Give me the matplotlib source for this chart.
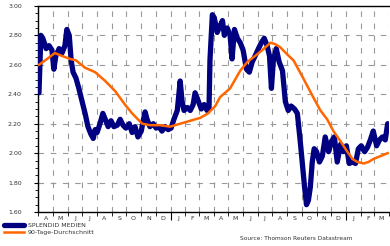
import matplotlib.pyplot as plt
import matplotlib.dates as mdates
import pandas as pd

kurs_dates = ["2012-04-02", "2012-04-06", "2012-04-10", "2012-04-17", "2012-04-23", "2012-04-29",
              "2012-05-03", "2012-05-07", "2012-05-14", "2012-05-20", "2012-05-26", "2012-05-30",
              "2012-06-04", "2012-06-08", "2012-06-12", "2012-06-18", "2012-06-24", "2012-07-01",
              "2012-07-07", "2012-07-13", "2012-07-19", "2012-07-24", "2012-07-28", "2012-08-01",
              "2012-08-07", "2012-08-13", "2012-08-18", "2012-08-24", "2012-08-30", "2012-09-05",
              "2012-09-12", "2012-09-18", "2012-09-24", "2012-09-30", "2012-10-07", "2012-10-13",
              "2012-10-19", "2012-10-25", "2012-11-01", "2012-11-05", "2012-11-09", "2012-11-13",
              "2012-11-19", "2012-11-26", "2012-12-02", "2012-12-08", "2012-12-14", "2012-12-21",
              "2012-12-27", "2013-01-02", "2013-01-08", "2013-01-15", "2013-01-21", "2013-01-25",
              "2013-01-29", "2013-02-05", "2013-02-11", "2013-02-17", "2013-02-21", "2013-02-28",
              "2013-03-06", "2013-03-12", "2013-03-18", "2013-03-22", "2013-03-24", "2013-03-29",
              "2013-04-02", "2013-04-08", "2013-04-12", "2013-04-19", "2013-04-23", "2013-04-29",
              "2013-05-05", "2013-05-09", "2013-05-14", "2013-05-20", "2013-05-26", "2013-06-01",
              "2013-06-08", "2013-06-14", "2013-06-20", "2013-06-26", "2013-07-03", "2013-07-09",
              "2013-07-15", "2013-07-21", "2013-07-26", "2013-07-30", "2013-08-03", "2013-08-09",
              "2013-08-15", "2013-08-22", "2013-08-28", "2013-09-03", "2013-09-09", "2013-09-16",
              "2013-09-22", "2013-09-28", "2013-10-02", "2013-10-07", "2013-10-11", "2013-10-15",
              "2013-10-19", "2013-10-23", "2013-10-27", "2013-11-01", "2013-11-07", "2013-11-13",
              "2013-11-19", "2013-11-26", "2013-12-02", "2013-12-08", "2013-12-14", "2013-12-21",
              "2013-12-27", "2014-01-02", "2014-01-08", "2014-01-15", "2014-01-21", "2014-01-27",
              "2014-02-02", "2014-02-09", "2014-02-15", "2014-02-21", "2014-02-27", "2014-03-06",
              "2014-03-12", "2014-03-18", "2014-03-24", "2014-03-29"]
kurs = [2.41, 2.80, 2.78, 2.71, 2.73, 2.70,
        2.57, 2.66, 2.71, 2.68, 2.73, 2.84,
        2.80, 2.63, 2.55, 2.51, 2.44, 2.35,
        2.27, 2.18, 2.13, 2.10, 2.16, 2.14,
        2.20, 2.27, 2.23, 2.18, 2.22, 2.18,
        2.19, 2.23, 2.19, 2.17, 2.20, 2.14,
        2.18, 2.11, 2.15, 2.22, 2.28, 2.23,
        2.18, 2.20, 2.17, 2.18, 2.15, 2.18,
        2.16, 2.17, 2.23, 2.29, 2.49, 2.35,
        2.29, 2.31, 2.29, 2.33, 2.41, 2.35,
        2.30, 2.33, 2.29, 2.30, 2.63, 2.94,
        2.92, 2.82, 2.85, 2.90, 2.80, 2.85,
        2.80, 2.64, 2.84, 2.78, 2.75, 2.70,
        2.57, 2.55, 2.62, 2.66, 2.71, 2.75,
        2.78, 2.73, 2.66, 2.44, 2.63, 2.71,
        2.62, 2.56, 2.35, 2.29, 2.32, 2.30,
        2.27, 2.08, 1.94, 1.77, 1.65, 1.68,
        1.77, 1.94, 2.03, 2.01, 1.94, 1.98,
        2.11, 2.01, 2.08, 2.11, 1.94, 2.06,
        2.01, 2.05, 1.93, 1.94, 1.93, 2.03,
        2.05, 2.01, 2.04, 2.09, 2.15, 2.05,
        2.09, 2.11, 2.09, 2.20]

avg_dates = ["2012-04-02", "2012-04-19", "2012-05-05", "2012-05-20", "2012-06-06", "2012-06-18",
             "2012-07-07", "2012-07-28", "2012-08-18", "2012-09-08", "2012-09-28", "2012-10-13",
             "2012-11-03", "2012-11-19", "2012-12-10", "2012-12-31", "2013-01-21", "2013-02-11",
             "2013-03-04", "2013-03-20", "2013-04-04", "2013-04-14", "2013-05-05", "2013-05-26",
             "2013-06-10", "2013-06-26", "2013-07-11", "2013-07-28", "2013-08-07", "2013-08-17",
             "2013-09-01", "2013-09-14", "2013-10-04", "2013-10-25", "2013-11-09", "2013-11-23",
             "2013-12-06", "2013-12-21", "2014-01-04", "2014-01-15", "2014-01-25", "2014-02-07",
             "2014-02-17", "2014-02-27", "2014-03-14", "2014-03-29"]
avg90 = [2.60, 2.64, 2.68, 2.66, 2.64, 2.63,
         2.58, 2.55, 2.49, 2.42, 2.33, 2.27,
         2.20, 2.19, 2.19, 2.18, 2.20, 2.22,
         2.24, 2.27, 2.32, 2.38, 2.44, 2.56,
         2.62, 2.66, 2.70, 2.75, 2.74, 2.72,
         2.67, 2.63, 2.51, 2.38, 2.29, 2.23,
         2.15, 2.08, 2.01, 1.96, 1.94, 1.93,
         1.94, 1.96, 1.98, 2.00]

month_labels = ["A", "M", "J", "J", "A", "S", "O", "N", "D", "J", "F", "M"] * 2
y_ticks = [1.60, 1.80, 2.00, 2.20, 2.40, 2.60, 2.80, 3.00]

navy = "#000080"
orange = "#FF6600"

fig = plt.figure(figsize=(3.9, 2.46), dpi=100)
ax = fig.add_axes([0.0987, 0.138, 0.899, 0.838])

ax.plot(pd.to_datetime(kurs_dates), kurs, color=navy, lw=3.8,
        solid_joinstyle="round", solid_capstyle="round", zorder=3,
        label="SPLENDID MEDIEN")
ax.plot(pd.to_datetime(avg_dates), avg90, color=orange, lw=1.8,
        solid_joinstyle="round", zorder=4, label="90-Tage-Durchschnitt")

ax.set_xlim(pd.Timestamp("2012-04-01"), pd.Timestamp("2014-04-01"))
ax.set_ylim(1.60, 3.00)

# y axis
ax.set_yticks(y_ticks)
ax.set_yticklabels([f"{v:.2f}" for v in y_ticks])
ax.set_yticks([1.60 + 0.05 * i for i in range(29)], minor=True)
ax.tick_params(axis="y", which="major", length=3, width=0.8, pad=9,
               labelsize=4.5, labelcolor="#333333")
ax.tick_params(axis="y", which="minor", length=2, width=0.6)

# x axis: month boundaries, longer ticks at year change
ax.xaxis.set_major_locator(mdates.YearLocator())
ax.xaxis.set_minor_locator(mdates.MonthLocator())
ax.xaxis.set_major_formatter(plt.NullFormatter())
ax.tick_params(axis="x", which="major", length=6, width=0.8)
ax.tick_params(axis="x", which="minor", length=3, width=0.6)

mids = pd.date_range("2012-04-01", periods=24, freq="MS") + pd.Timedelta(days=15)
sec = ax.secondary_xaxis("bottom")
sec.set_xticks(mids)
sec.set_xticklabels(month_labels)
sec.tick_params(length=0, pad=3, labelsize=4.5, labelcolor="#333333")
sec.spines["bottom"].set_visible(False)

ax.grid(True, axis="x", which="both", color="#999999", lw=0.8, ls=(0, (5, 6)))
ax.grid(True, axis="y", which="major", color="#999999", lw=0.8, ls=(0, (5, 6)))
ax.set_axisbelow(True)

ax.spines["right"].set_visible(False)
for s in ["left", "bottom", "top"]:
    ax.spines[s].set_linewidth(1.0)

leg = fig.legend(loc="lower left", bbox_to_anchor=(0.0, 0.025), frameon=False,
                 fontsize=4.5, handlelength=3.2, labelspacing=0.3,
                 borderaxespad=0.3, handletextpad=0.6)
for t in leg.get_texts():
    t.set_color("#333333")

fig.text(0.615, 0.025, "Source: Thomson Reuters Datastream", fontsize=4.2, color="#333333")

fig.savefig("out.png", dpi=100)
